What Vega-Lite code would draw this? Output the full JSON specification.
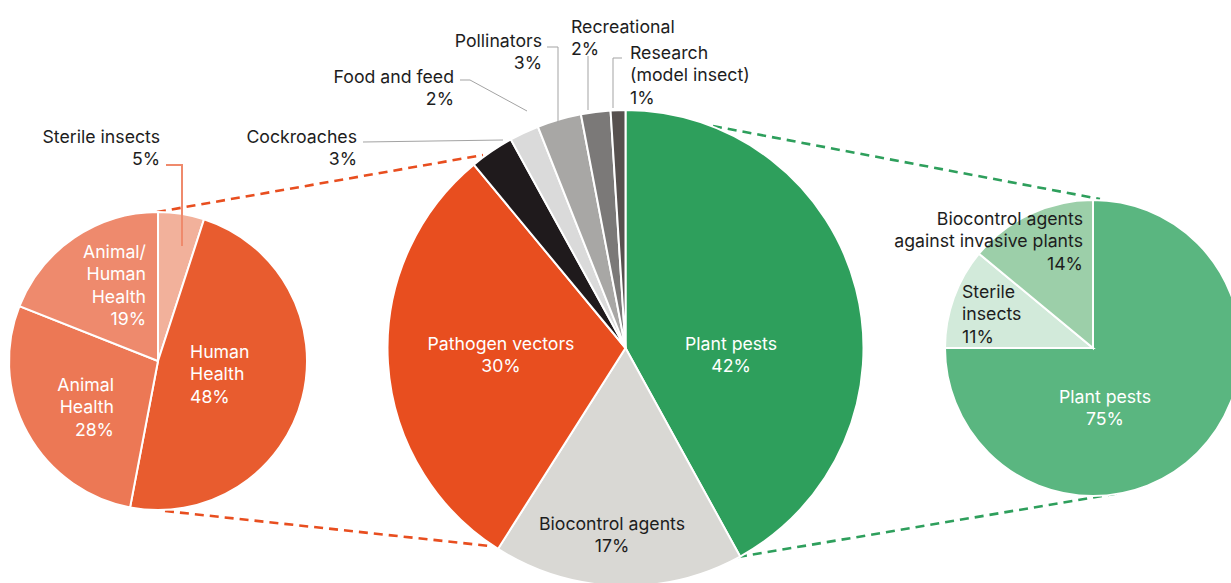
{
  "$schema": "https://vega.github.io/schema/vega-lite/v6.json",
  "width": 1231,
  "height": 583,
  "autosize": {"type": "none"},
  "padding": 0,
  "background": "white",
  "config": {
    "view": {"stroke": null},
    "text": {"font": "Inter", "fontSize": 17.7, "lineHeight": 22.4, "lineBreak": "\n", "baseline": "alphabetic"}
  },
  "datasets": {
    "shares": [
      {"pie": "left", "order": 1, "category": "Sterile insects", "value": 5},
      {"pie": "left", "order": 2, "category": "Human Health", "value": 48},
      {"pie": "left", "order": 3, "category": "Animal Health", "value": 28},
      {"pie": "left", "order": 4, "category": "Animal/Human Health", "value": 19},
      {"pie": "main", "order": 1, "category": "Plant pests", "value": 42},
      {"pie": "main", "order": 2, "category": "Biocontrol agents", "value": 17},
      {"pie": "main", "order": 3, "category": "Pathogen vectors", "value": 30},
      {"pie": "main", "order": 4, "category": "Cockroaches", "value": 3},
      {"pie": "main", "order": 5, "category": "Food and feed", "value": 2},
      {"pie": "main", "order": 6, "category": "Pollinators", "value": 3},
      {"pie": "main", "order": 7, "category": "Recreational", "value": 2},
      {"pie": "main", "order": 8, "category": "Research (model insect)", "value": 1},
      {"pie": "right", "order": 1, "category": "Plant pests", "value": 75},
      {"pie": "right", "order": 2, "category": "Sterile insects", "value": 11},
      {"pie": "right", "order": 3, "category": "Biocontrol agents against invasive plants", "value": 14}
    ],
    "lines": [
      {"kind": "orange", "x": 157, "y": 212, "x2": 483, "y2": 155},
      {"kind": "orange", "x": 165, "y": 511, "x2": 490, "y2": 546},
      {"kind": "green", "x": 713, "y": 126, "x2": 1100, "y2": 199},
      {"kind": "green", "x": 738, "y": 557, "x2": 1120, "y2": 493},
      {"kind": "leader-orange", "x": 167, "y": 165, "x2": 182, "y2": 165},
      {"kind": "leader-orange", "x": 182, "y": 165, "x2": 182, "y2": 245},
      {"kind": "leader-gray", "x": 363, "y": 142, "x2": 503, "y2": 140},
      {"kind": "leader-gray", "x": 460, "y": 80, "x2": 470, "y2": 80},
      {"kind": "leader-gray", "x": 470, "y": 80, "x2": 527, "y2": 111},
      {"kind": "leader-gray", "x": 547, "y": 47, "x2": 558, "y2": 47},
      {"kind": "leader-gray", "x": 558, "y": 47, "x2": 558, "y2": 123},
      {"kind": "leader-gray", "x": 588, "y": 56, "x2": 588, "y2": 110},
      {"kind": "leader-gray", "x": 622, "y": 58, "x2": 613, "y2": 58},
      {"kind": "leader-gray", "x": 613, "y": 58, "x2": 613, "y2": 108}
    ],
    "labels": [
      {"key": "left-sterile", "text": "Sterile insects\n5%", "x": 160, "y": 143},
      {"key": "cockroaches", "text": "Cockroaches\n3%", "x": 357, "y": 143},
      {"key": "food", "text": "Food and feed\n2%", "x": 454, "y": 83},
      {"key": "pollinators", "text": "Pollinators\n3%", "x": 542, "y": 47},
      {"key": "right-biocontrol", "text": "Biocontrol agents\nagainst invasive plants\n14%", "x": 1083, "y": 225},
      {"key": "recreational", "text": "Recreational\n2%", "x": 571, "y": 33},
      {"key": "research", "text": "Research\n(model insect)\n1%", "x": 630, "y": 59},
      {"key": "right-sterile", "text": "Sterile\ninsects\n11%", "x": 962, "y": 298},
      {"key": "main-plant", "text": "Plant pests\n42%", "x": 731, "y": 350},
      {"key": "pathogen", "text": "Pathogen vectors\n30%", "x": 501, "y": 350},
      {"key": "right-plant", "text": "Plant pests\n75%", "x": 1105, "y": 403},
      {"key": "biocontrol", "text": "Biocontrol agents\n17%", "x": 612, "y": 530},
      {"key": "animal-human", "text": "Animal/\nHuman\nHealth\n19%", "x": 146, "y": 258},
      {"key": "animal", "text": "Animal\nHealth\n28%", "x": 114, "y": 391},
      {"key": "human", "text": "Human\nHealth\n48%", "x": 190, "y": 358}
    ]
  },
  "layer": [
    {
      "data": {"name": "lines"},
      "transform": [{"filter": {"field": "kind", "oneOf": ["orange", "green"]}}],
      "mark": {"type": "rule", "strokeWidth": 2.6, "strokeDash": [9, 6]},
      "encoding": {
        "x": {"field": "x", "type": "quantitative", "scale": {"domain": [0, 1231], "range": [0, 1231], "nice": false, "zero": false}, "axis": null},
        "y": {"field": "y", "type": "quantitative", "scale": {"domain": [0, 583], "range": [0, 583], "nice": false, "zero": false}, "axis": null},
        "x2": {"field": "x2"},
        "y2": {"field": "y2"},
        "color": {"field": "kind", "type": "nominal", "scale": {"domain": ["orange", "green"], "range": ["#e84e1f", "#2e9f5c"]}, "legend": null}
      }
    },
    {
      "data": {"name": "shares"},
      "transform": [
        {"filter": "datum.pie === 'main'"},
        {"stack": "value", "groupby": ["pie"], "sort": [{"field": "order"}], "as": ["v0", "v1"]}
      ],
      "mark": {"type": "arc", "radius": 238, "stroke": "white", "strokeWidth": 2},
      "encoding": {
        "x": {"field": "pie", "type": "nominal", "scale": {"type": "point", "domain": ["left", "main", "right"], "range": [158, 1093], "padding": 0}, "axis": null},
        "y": {"field": "pie", "type": "nominal", "scale": {"type": "point", "domain": ["left", "main", "right"], "range": [348, 348], "padding": 0}, "axis": null},
        "theta": {"field": "v0", "type": "quantitative", "scale": {"domain": [0, 100], "range": [0, 6.283185307179586]}},
        "theta2": {"field": "v1"},
        "color": {"field": "category", "type": "nominal", "scale": {"domain": ["Plant pests", "Biocontrol agents", "Pathogen vectors", "Cockroaches", "Food and feed", "Pollinators", "Recreational", "Research (model insect)"], "range": ["#2e9f5c", "#d9d8d4", "#e84e1f", "#1f1a1c", "#dadada", "#a8a7a5", "#7b7978", "#57514f"]}, "legend": null}
      }
    },
    {
      "data": {"name": "shares"},
      "transform": [
        {"filter": "datum.pie === 'left'"},
        {"stack": "value", "groupby": ["pie"], "sort": [{"field": "order"}], "as": ["v0", "v1"]}
      ],
      "mark": {"type": "arc", "radius": 149, "stroke": "white", "strokeWidth": 2, "yOffset": 13},
      "encoding": {
        "x": {"field": "pie", "type": "nominal", "scale": {"type": "point", "domain": ["left", "main", "right"], "range": [158, 1093], "padding": 0}, "axis": null},
        "y": {"field": "pie", "type": "nominal", "scale": {"type": "point", "domain": ["left", "main", "right"], "range": [348, 348], "padding": 0}, "axis": null},
        "theta": {"field": "v0", "type": "quantitative", "scale": {"domain": [0, 100], "range": [0, 6.283185307179586]}},
        "theta2": {"field": "v1"},
        "color": {"field": "category", "type": "nominal", "scale": {"domain": ["Sterile insects", "Human Health", "Animal Health", "Animal/Human Health"], "range": ["#f2b19b", "#e85c2f", "#ec7855", "#ee8a6d"]}, "legend": null}
      }
    },
    {
      "data": {"name": "shares"},
      "transform": [
        {"filter": "datum.pie === 'right'"},
        {"stack": "value", "groupby": ["pie"], "sort": [{"field": "order"}], "as": ["v0", "v1"]}
      ],
      "mark": {"type": "arc", "radius": 148, "stroke": "white", "strokeWidth": 2},
      "encoding": {
        "x": {"field": "pie", "type": "nominal", "scale": {"type": "point", "domain": ["left", "main", "right"], "range": [158, 1093], "padding": 0}, "axis": null},
        "y": {"field": "pie", "type": "nominal", "scale": {"type": "point", "domain": ["left", "main", "right"], "range": [348, 348], "padding": 0}, "axis": null},
        "theta": {"field": "v0", "type": "quantitative", "scale": {"domain": [0, 100], "range": [0, 6.283185307179586]}},
        "theta2": {"field": "v1"},
        "color": {"field": "category", "type": "nominal", "scale": {"domain": ["Plant pests", "Sterile insects", "Biocontrol agents against invasive plants"], "range": ["#5ab680", "#d2eada", "#9ccfa9"]}, "legend": null}
      }
    },
    {
      "data": {"name": "lines"},
      "transform": [{"filter": "datum.kind === 'leader-gray'"}],
      "mark": {"type": "rule", "strokeWidth": 1, "color": "#a3a3a3"},
      "encoding": {
        "x": {"field": "x", "type": "quantitative", "scale": {"domain": [0, 1231], "range": [0, 1231], "nice": false, "zero": false}, "axis": null},
        "y": {"field": "y", "type": "quantitative", "scale": {"domain": [0, 583], "range": [0, 583], "nice": false, "zero": false}, "axis": null},
        "x2": {"field": "x2"},
        "y2": {"field": "y2"}
      }
    },
    {
      "data": {"name": "lines"},
      "transform": [{"filter": "datum.kind === 'leader-orange'"}],
      "mark": {"type": "rule", "strokeWidth": 2, "color": "#ef8a6c", "strokeCap": "square"},
      "encoding": {
        "x": {"field": "x", "type": "quantitative", "scale": {"domain": [0, 1231], "range": [0, 1231], "nice": false, "zero": false}, "axis": null},
        "y": {"field": "y", "type": "quantitative", "scale": {"domain": [0, 583], "range": [0, 583], "nice": false, "zero": false}, "axis": null},
        "x2": {"field": "x2"},
        "y2": {"field": "y2"}
      }
    },
    {
      "data": {"name": "labels"},
      "transform": [{"filter": {"field": "key", "oneOf": ["left-sterile", "cockroaches", "food", "pollinators", "right-biocontrol"]}}],
      "mark": {"type": "text", "align": "right", "color": "#1d1d1d"},
      "encoding": {
        "x": {"field": "x", "type": "quantitative", "scale": {"domain": [0, 1231], "range": [0, 1231], "nice": false, "zero": false}, "axis": null},
        "y": {"field": "y", "type": "quantitative", "scale": {"domain": [0, 583], "range": [0, 583], "nice": false, "zero": false}, "axis": null},
        "text": {"field": "text"}
      }
    },
    {
      "data": {"name": "labels"},
      "transform": [{"filter": {"field": "key", "oneOf": ["recreational", "research", "right-sterile"]}}],
      "mark": {"type": "text", "align": "left", "color": "#1d1d1d"},
      "encoding": {
        "x": {"field": "x", "type": "quantitative", "scale": {"domain": [0, 1231], "range": [0, 1231], "nice": false, "zero": false}, "axis": null},
        "y": {"field": "y", "type": "quantitative", "scale": {"domain": [0, 583], "range": [0, 583], "nice": false, "zero": false}, "axis": null},
        "text": {"field": "text"}
      }
    },
    {
      "data": {"name": "labels"},
      "transform": [{"filter": {"field": "key", "oneOf": ["biocontrol"]}}],
      "mark": {"type": "text", "align": "center", "color": "#1d1d1d"},
      "encoding": {
        "x": {"field": "x", "type": "quantitative", "scale": {"domain": [0, 1231], "range": [0, 1231], "nice": false, "zero": false}, "axis": null},
        "y": {"field": "y", "type": "quantitative", "scale": {"domain": [0, 583], "range": [0, 583], "nice": false, "zero": false}, "axis": null},
        "text": {"field": "text"}
      }
    },
    {
      "data": {"name": "labels"},
      "transform": [{"filter": {"field": "key", "oneOf": ["main-plant", "pathogen", "right-plant"]}}],
      "mark": {"type": "text", "align": "center", "color": "white"},
      "encoding": {
        "x": {"field": "x", "type": "quantitative", "scale": {"domain": [0, 1231], "range": [0, 1231], "nice": false, "zero": false}, "axis": null},
        "y": {"field": "y", "type": "quantitative", "scale": {"domain": [0, 583], "range": [0, 583], "nice": false, "zero": false}, "axis": null},
        "text": {"field": "text"}
      }
    },
    {
      "data": {"name": "labels"},
      "transform": [{"filter": {"field": "key", "oneOf": ["animal-human", "animal"]}}],
      "mark": {"type": "text", "align": "right", "color": "white"},
      "encoding": {
        "x": {"field": "x", "type": "quantitative", "scale": {"domain": [0, 1231], "range": [0, 1231], "nice": false, "zero": false}, "axis": null},
        "y": {"field": "y", "type": "quantitative", "scale": {"domain": [0, 583], "range": [0, 583], "nice": false, "zero": false}, "axis": null},
        "text": {"field": "text"}
      }
    },
    {
      "data": {"name": "labels"},
      "transform": [{"filter": {"field": "key", "oneOf": ["human"]}}],
      "mark": {"type": "text", "align": "left", "color": "white"},
      "encoding": {
        "x": {"field": "x", "type": "quantitative", "scale": {"domain": [0, 1231], "range": [0, 1231], "nice": false, "zero": false}, "axis": null},
        "y": {"field": "y", "type": "quantitative", "scale": {"domain": [0, 583], "range": [0, 583], "nice": false, "zero": false}, "axis": null},
        "text": {"field": "text"}
      }
    }
  ],
  "resolve": {"scale": {"x": "independent", "y": "independent", "theta": "independent", "color": "independent"}}
}
